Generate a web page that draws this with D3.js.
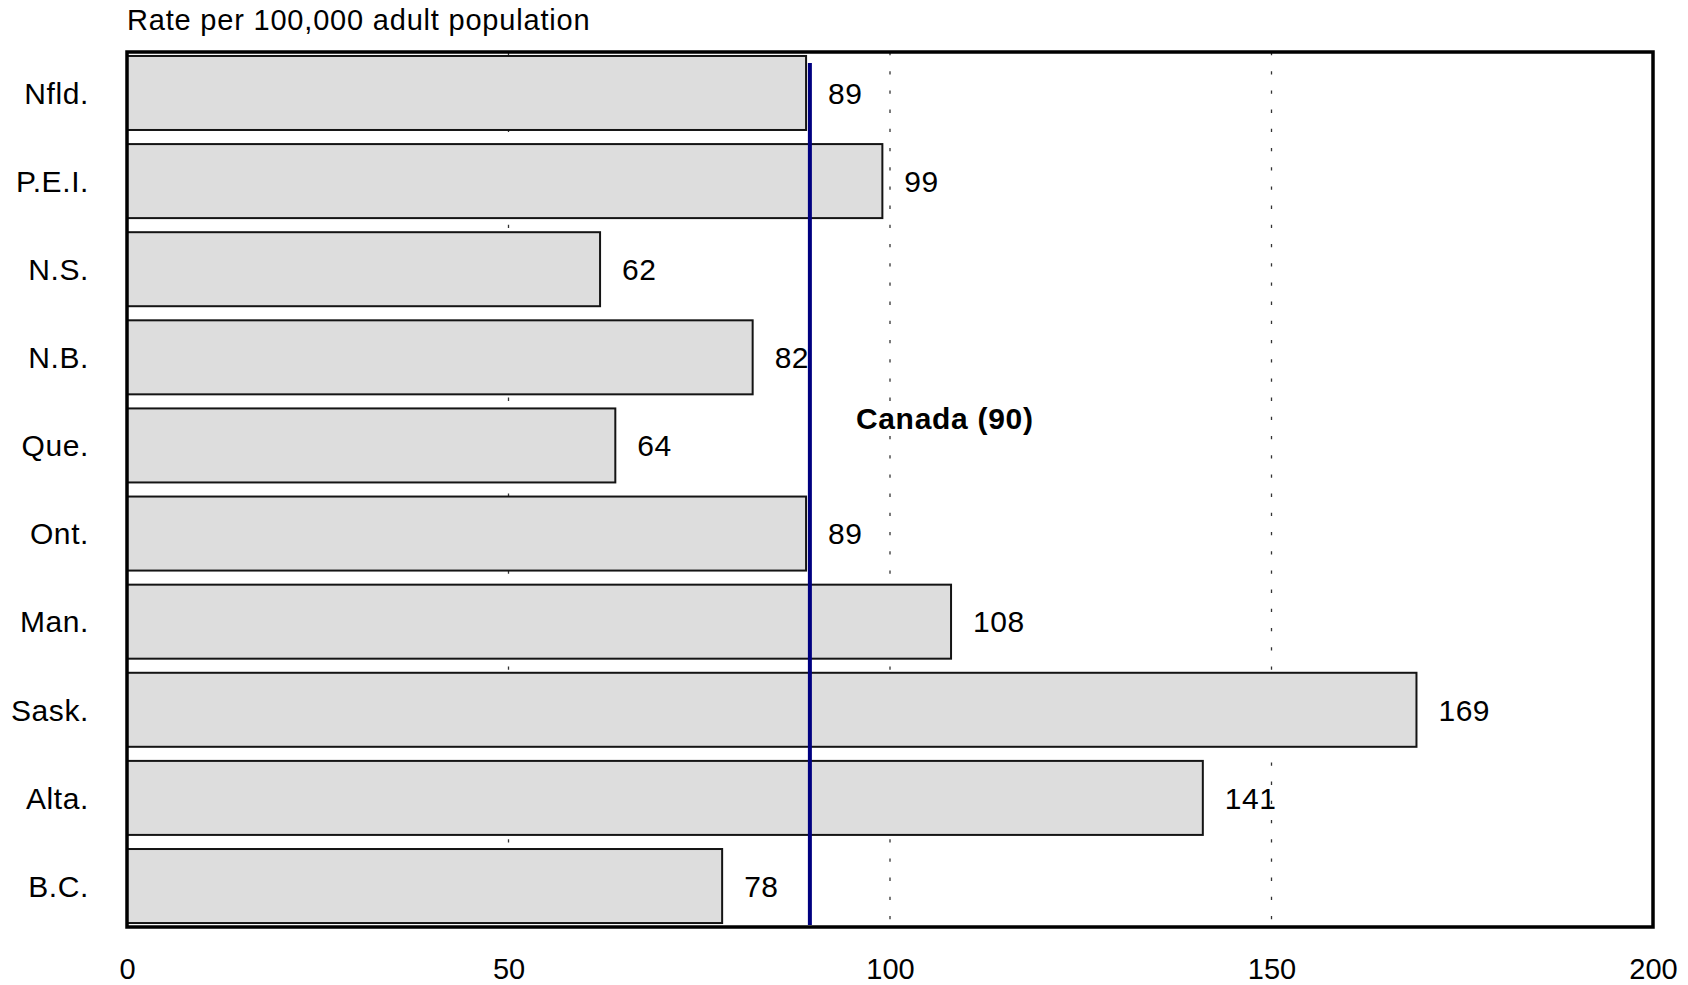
<!DOCTYPE html>
<html>
<head>
<meta charset="utf-8">
<script src="https://cdn.jsdelivr.net/npm/d3@7"></script>
<style>
  html, body { margin: 0; padding: 0; background: #ffffff; }
  svg { display: block; }
  text { font-family: "Liberation Sans", Arial, Helvetica, sans-serif; fill: #000; }
</style>
</head>
<body>
<svg id="chart" width="1688" height="985"></svg>
<script>
// Provinces, top to bottom
const provinces = ["Nfld.", "P.E.I.", "N.S.", "N.B.", "Que.", "Ont.", "Man.", "Sask.", "Alta.", "B.C."];
// Rate per 100,000 adult population
const rates = [89, 99, 62, 82, 64, 89, 108, 169, 141, 78];
// National reference rate
const canadaRate = 89.5;
const canadaName = "Canada";
// Axis
const xTicks = [0, 50, 100, 150, 200];
const gridTicks = [50, 100, 150];
const axisTitle = "Rate per 100,000 adult population";

const svg = d3.select("#chart");
const plot = { left: 127, right: 1653, top: 52, bottom: 927 };

const x = d3.scaleLinear().domain([0, 200]).range([plot.left, plot.right]);
const y = d3.scaleBand().domain(provinces).range([plot.top, plot.bottom])
  .paddingInner(0.16).paddingOuter(0.045);

const data = provinces.map((p, i) => ({ prov: p, value: rates[i] }));

// Dotted vertical gridlines
svg.append("g").selectAll("line").data(gridTicks).join("line")
  .attr("x1", d => x(d)).attr("x2", d => x(d))
  .attr("y1", plot.top).attr("y2", plot.bottom)
  .attr("stroke", "#333").attr("stroke-width", 1.3)
  .attr("stroke-dasharray", "3.3,15.9");

// Bars
svg.append("g").selectAll("rect").data(data).join("rect")
  .attr("x", x(0))
  .attr("y", d => y(d.prov))
  .attr("width", d => x(d.value) - x(0))
  .attr("height", y.bandwidth())
  .attr("fill", "#dddddd")
  .attr("stroke", "#141414")
  .attr("stroke-width", 2);

// Value labels
svg.append("g").selectAll("text").data(data).join("text")
  .attr("x", d => x(d.value) + 22)
  .attr("y", d => y(d.prov) + y.bandwidth() / 2)
  .attr("dy", "0.36em")
  .attr("font-size", 30)
  .attr("letter-spacing", "0.5px")
  .text(d => d.value);

// Province labels
svg.append("g").selectAll("text").data(provinces).join("text")
  .attr("x", 89)
  .attr("y", d => y(d) + y.bandwidth() / 2)
  .attr("dy", "0.36em")
  .attr("text-anchor", "end")
  .attr("font-size", 30)
  .attr("letter-spacing", "0.6px")
  .text(d => d);

// National average line
svg.append("line")
  .attr("x1", x(canadaRate)).attr("x2", x(canadaRate))
  .attr("y1", plot.top + 11).attr("y2", plot.bottom - 2)
  .attr("stroke", "#000080").attr("stroke-width", 4);

svg.append("text")
  .attr("x", x(canadaRate) + 46)
  .attr("y", y("Que.") + 21)
  .attr("font-size", 30)
  .attr("font-weight", "bold")
  .attr("letter-spacing", "0.7px")
  .text(`${canadaName} (${Math.round(canadaRate)})`);

// Plot frame
svg.append("rect")
  .attr("x", plot.left).attr("y", plot.top)
  .attr("width", plot.right - plot.left).attr("height", plot.bottom - plot.top)
  .attr("fill", "none").attr("stroke", "#000").attr("stroke-width", 3.5);

// X axis labels
const xAxis = d3.axisBottom(x).tickValues(xTicks).tickSize(0).tickPadding(31);
const gx = svg.append("g").attr("transform", `translate(0,${plot.bottom})`).call(xAxis);
gx.select(".domain").remove();
gx.selectAll("text")
  .attr("font-size", 29)
  .attr("font-family", "Liberation Sans, Arial, sans-serif")
  .attr("fill", "#000");

// Axis title
svg.append("text")
  .attr("x", plot.left)
  .attr("y", 30)
  .attr("font-size", 29)
  .attr("letter-spacing", "0.8px")
  .text(axisTitle);
</script>
</body>
</html>
